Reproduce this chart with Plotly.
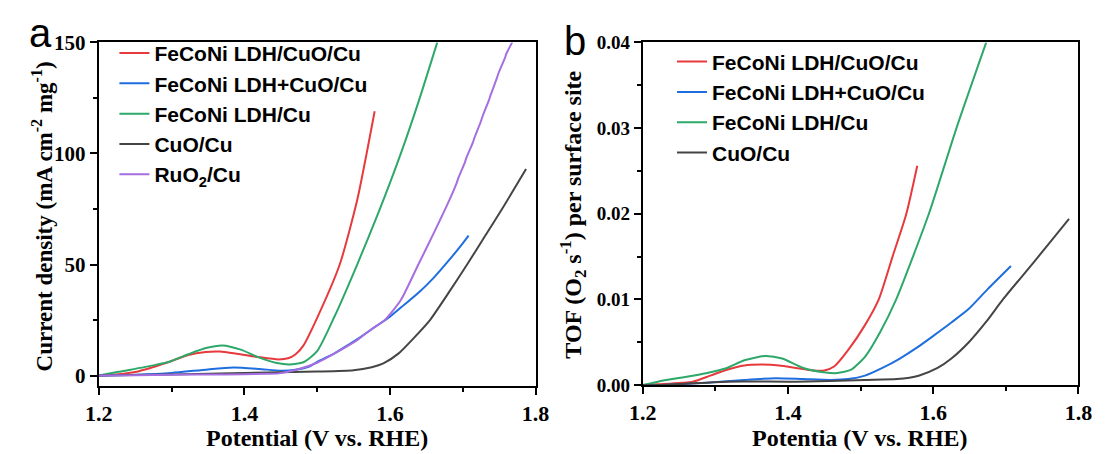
import plotly.graph_objects as go

# ---------------- Panel a data (Current density) ----------------
a_red_x = [1.200, 1.227, 1.250, 1.275, 1.300, 1.323, 1.347, 1.366, 1.390, 1.420, 1.447, 1.460, 1.470, 1.481, 1.500, 1.531, 1.555, 1.579]
a_red_y = [0.0, 0.6, 1.6, 3.9, 6.6, 9.3, 10.6, 10.8, 9.8, 8.3, 7.3, 7.8, 9.5, 13.5, 26.0, 50.0, 79.0, 119.0]

a_blue_x = [1.200, 1.250, 1.300, 1.350, 1.385, 1.420, 1.450, 1.470, 1.490, 1.500, 1.520, 1.540, 1.560, 1.580, 1.600, 1.620, 1.640, 1.660, 1.680, 1.700, 1.708]
a_blue_y = [0.0, 0.4, 1.2, 2.8, 3.6, 3.0, 2.2, 2.6, 4.2, 6.2, 9.3, 13.3, 17.5, 22.0, 26.5, 32.0, 37.5, 44.0, 51.5, 59.5, 63.0]

a_green_x = [1.200, 1.227, 1.275, 1.300, 1.323, 1.347, 1.370, 1.395, 1.419, 1.443, 1.462, 1.481, 1.500, 1.524, 1.555, 1.585, 1.615, 1.640, 1.665]
a_green_y = [0.0, 1.7, 4.6, 6.6, 9.6, 12.4, 13.6, 11.7, 8.3, 5.8, 5.0, 6.0, 11.0, 26.7, 50.0, 74.0, 100.0, 124.0, 150.0]

a_black_x = [1.200, 1.300, 1.400, 1.500, 1.550, 1.575, 1.591, 1.612, 1.633, 1.655, 1.680, 1.706, 1.730, 1.754, 1.787]
a_black_y = [0.0, 0.5, 1.2, 1.8, 2.4, 3.8, 5.5, 10.0, 17.0, 25.0, 37.0, 50.0, 62.5, 75.0, 93.0]

a_purple_x = [1.200, 1.250, 1.300, 1.350, 1.400, 1.430, 1.447, 1.476, 1.500, 1.524, 1.555, 1.575, 1.593, 1.615, 1.639, 1.660, 1.683,
              1.692, 1.694, 1.703, 1.705, 1.714, 1.716, 1.725, 1.727, 1.736, 1.738, 1.747, 1.749, 1.758, 1.760, 1.768]
a_purple_y = [0.0, 0.2, 0.4, 0.5, 0.6, 0.8, 1.0, 3.1, 5.8, 10.0, 16.0, 21.0, 25.0, 34.0, 50.0, 64.0, 80.0,
              87.0, 89.0, 96.0, 98.0, 105.0, 107.0, 114.5, 116.5, 124.0, 126.0, 134.0, 136.0, 143.0, 145.0, 150.0]

# ---------------- Panel b data (TOF) ----------------
b_red_x = [1.200, 1.221, 1.269, 1.293, 1.316, 1.340, 1.364, 1.388, 1.411, 1.435, 1.450, 1.464, 1.483, 1.506, 1.525, 1.544, 1.563, 1.578]
b_red_y = [0.0, 0.0001, 0.0004, 0.0011, 0.0018, 0.0023, 0.0024, 0.0023, 0.0020, 0.0017, 0.0017, 0.0022, 0.0041, 0.0070, 0.0100, 0.0150, 0.0200, 0.0256]

b_blue_x = [1.200, 1.221, 1.293, 1.340, 1.383, 1.421, 1.459, 1.483, 1.506, 1.530, 1.554, 1.578, 1.601, 1.625, 1.649, 1.675, 1.707]
b_blue_y = [0.0, 0.0, 0.0003, 0.0006, 0.0008, 0.0007, 0.0006, 0.0007, 0.0011, 0.0020, 0.0031, 0.0044, 0.0058, 0.0073, 0.0089, 0.0112, 0.0139]

b_green_x = [1.200, 1.221, 1.269, 1.293, 1.316, 1.340, 1.369, 1.392, 1.421, 1.449, 1.468, 1.487, 1.506, 1.527, 1.549, 1.594, 1.632, 1.673]
b_green_y = [0.0, 0.0004, 0.0011, 0.0015, 0.0020, 0.0029, 0.0034, 0.0031, 0.0020, 0.0015, 0.0014, 0.0018, 0.0033, 0.0062, 0.0100, 0.0200, 0.0300, 0.0400]

b_black_x = [1.200, 1.221, 1.316, 1.411, 1.506, 1.550, 1.580, 1.606, 1.625, 1.649, 1.673, 1.696, 1.740, 1.787]
b_black_y = [0.0, 0.0, 0.0004, 0.0004, 0.0006, 0.0007, 0.0011, 0.0020, 0.0031, 0.0050, 0.0074, 0.0100, 0.0145, 0.0194]

names = ["FeCoNi LDH/CuO/Cu", "FeCoNi LDH+CuO/Cu", "FeCoNi LDH/Cu", "CuO/Cu", "RuO<sub>2</sub>/Cu"]
colors = ["#e63a3c", "#1f6ee0", "#2ea86a", "#454545", "#a66ee0"]

x_ticks = [1.2, 1.4, 1.6, 1.8]
x_ticklabels = ["1.2", "1.4", "1.6", "1.8"]
a_y_ticks = [0, 50, 100, 150]
a_y_ticklabels = ["0", "50", "100", "150"]
b_y_ticks = [0.00, 0.01, 0.02, 0.03, 0.04]
b_y_ticklabels = ["0.00", "0.01", "0.02", "0.03", "0.04"]

W, H = 1111, 454
serif = "Liberation Serif"
sans = "Liberation Sans"

def bold(lst):
    return ["<b>%s</b>" % s for s in lst]

fig = go.Figure()

a_series = [(a_red_x, a_red_y), (a_blue_x, a_blue_y), (a_green_x, a_green_y), (a_black_x, a_black_y), (a_purple_x, a_purple_y)]
for i, (xs, ys) in enumerate(a_series):
    fig.add_trace(go.Scatter(x=xs, y=ys, mode="lines", name="<b>%s</b>" % names[i],
                             line=dict(color=colors[i], width=2, shape="spline", smoothing=0.6),
                             xaxis="x", yaxis="y", legend="legend"))

b_series = [(b_red_x, b_red_y), (b_blue_x, b_blue_y), (b_green_x, b_green_y), (b_black_x, b_black_y)]
for i, (xs, ys) in enumerate(b_series):
    fig.add_trace(go.Scatter(x=xs, y=ys, mode="lines", name="<b>%s</b>" % names[i],
                             line=dict(color=colors[i], width=2, shape="spline", smoothing=0.6),
                             xaxis="x2", yaxis="y2", legend="legend2"))

def px_x(p):
    return p / W

def px_y(p):
    return 1 - p / H

axis_common = dict(showline=True, linewidth=2, linecolor="black", mirror=True,
                   ticks="outside", ticklen=7, tickwidth=1.5, tickcolor="black",
                   showgrid=False, zeroline=False)
minor_x = dict(dtick=0.1, ticks="outside", ticklen=4, tickcolor="black", tickwidth=1.5)

fig.update_layout(
    width=W, height=H,
    margin=dict(l=0, r=0, t=0, b=0),
    paper_bgcolor="white", plot_bgcolor="white",
    xaxis=dict(domain=[px_x(87), px_x(535)], range=[1.2, 1.8], anchor="y",
               tickvals=x_ticks, ticktext=bold(x_ticklabels),
               tickfont=dict(family=serif, size=22, color="black"),
               minor=minor_x, **axis_common),
    yaxis=dict(domain=[1 - 394 / H, 1 - 32 / H], range=[-4.7, 150], anchor="x",
               tickvals=a_y_ticks, ticktext=bold(a_y_ticklabels),
               tickfont=dict(family=serif, size=21, color="black"),
               minor=dict(dtick=25, ticks="outside", ticklen=4, tickcolor="black", tickwidth=1.5),
               **axis_common),
    xaxis2=dict(domain=[px_x(645), px_x(1092)], range=[1.2, 1.8], anchor="y2",
                tickvals=x_ticks, ticktext=bold(x_ticklabels),
                tickfont=dict(family=serif, size=22, color="black"),
                minor=minor_x, **axis_common),
    yaxis2=dict(domain=[1 - 393 / H, 1 - 32 / H], range=[0, 0.04], anchor="x2",
                tickvals=b_y_ticks, ticktext=bold(b_y_ticklabels),
                tickfont=dict(family=serif, size=19, color="black"),
                minor=dict(dtick=0.005, ticks="outside", ticklen=4, tickcolor="black", tickwidth=1.5),
                **axis_common),
    legend=dict(x=px_x(103), y=px_y(22), xanchor="left", yanchor="top",
                bgcolor="rgba(0,0,0,0)", borderwidth=0, tracegroupgap=0,
                font=dict(family=sans, size=21, color="black")),
    legend2=dict(x=px_x(675), y=px_y(31), xanchor="left", yanchor="top",
                 bgcolor="rgba(0,0,0,0)", borderwidth=0, tracegroupgap=0,
                 font=dict(family=sans, size=21, color="black")),
    showlegend=True,
)

annotations = [
    dict(text="<b>Potential (V vs. RHE)</b>", x=px_x(311), y=px_y(449), xref="paper", yref="paper",
         showarrow=False, xanchor="center", yanchor="middle",
         font=dict(family=serif, size=24, color="black")),
    dict(text="<b>Potentia (V vs. RHE)</b>", x=px_x(868), y=px_y(449), xref="paper", yref="paper",
         showarrow=False, xanchor="center", yanchor="middle",
         font=dict(family=serif, size=24, color="black")),
    dict(text="<b>Current density (mA cm<sup>-2</sup> mg<sup>-1</sup>)</b>", x=px_x(29), y=px_y(215),
         xref="paper", yref="paper", showarrow=False, textangle=-90,
         xanchor="center", yanchor="middle", font=dict(family=serif, size=23, color="black")),
    dict(text="<b>TOF (O<sub>2</sub> s<sup>-1</sup>) per surface site</b>", x=px_x(574), y=px_y(214),
         xref="paper", yref="paper", showarrow=False, textangle=-90,
         xanchor="center", yanchor="middle", font=dict(family=serif, size=24, color="black")),
    dict(text="a", x=px_x(27), y=px_y(22), xref="paper", yref="paper", showarrow=False,
         xanchor="center", yanchor="middle", font=dict(family=sans, size=40, color="black")),
    dict(text="b", x=px_x(576), y=px_y(31), xref="paper", yref="paper", showarrow=False,
         xanchor="center", yanchor="middle", font=dict(family=sans, size=40, color="black")),
]
fig.update_layout(annotations=annotations)

fig.write_html("out.html")
